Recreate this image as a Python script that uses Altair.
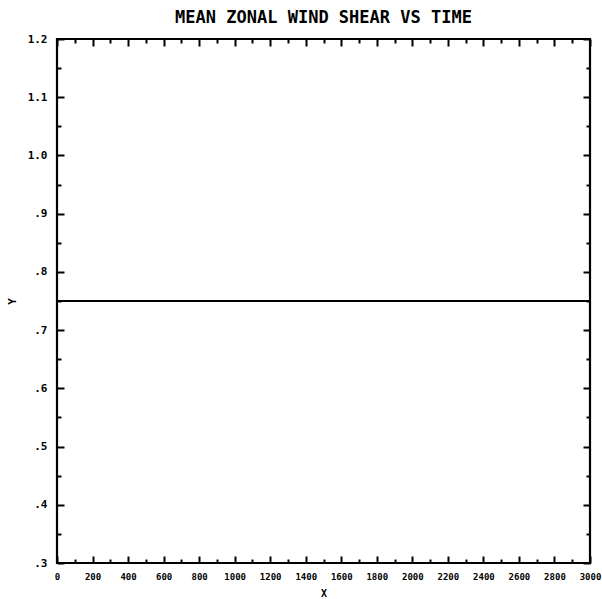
import altair as alt
import pandas as pd

# data
line_x = [0, 3000]
line_y = [0.75, 0.75]
x_major = list(range(0, 3001, 200))
x_minor = list(range(100, 3000, 200))
y_major = [0.3, 0.4, 0.5, 0.6, 0.7, 0.8, 0.9, 1.0, 1.1, 1.2]
y_minor = [0.35, 0.45, 0.55, 0.65, 0.75, 0.85, 0.95, 1.05, 1.15]
title_text = "MEAN ZONAL WIND SHEAR VS TIME"

W, H = 533, 524
df = pd.DataFrame({"x": line_x, "y": line_y})

xs = alt.Scale(domain=[0, 3000], nice=False, zero=False)
ys = alt.Scale(domain=[0.3, 1.2], nice=False, zero=False)

FONT = "DejaVu Sans Mono"

def tick_axis(orient, offset, values, size):
    return alt.Axis(orient=orient, offset=offset, values=values, tickSize=size,
                    tickWidth=2, tickColor="black", labels=False, domain=False,
                    grid=False, title="")

base = alt.Chart(df)

main = base.mark_line(color="black", strokeWidth=2.2).encode(
    x=alt.X("x:Q", scale=xs, axis=alt.Axis(
        orient="bottom", values=x_major, format="d", ticks=False, tickSize=0, domain=False, grid=False,
        labelPadding=9, labelFont=FONT, labelFontSize=9, labelFontWeight="bold",
        labelColor="black", labelFlush=False, labelOverlap=False,
        title="X", titleFont=FONT, titleFontSize=10, titleFontWeight="bold",
        titlePadding=7, titleColor="black")),
    y=alt.Y("y:Q", scale=ys, axis=alt.Axis(
        orient="left", values=y_major, ticks=False, tickSize=0, domain=False, grid=False,
        labelPadding=10, labelFont=FONT, labelFontSize=11, labelFontWeight="bold",
        labelColor="black", labelFlush=False, labelOverlap=False,
        labelExpr="datum.value < 0.99 ? '.' + round(datum.value*10) : format(datum.value, '.1f')",
        title="Y", titleFont=FONT, titleFontSize=11, titleFontWeight="bold",
        titlePadding=10, titleColor="black")),
)

def ghost(xaxis, yaxis):
    return base.mark_line(opacity=0).encode(
        x=alt.X("x:Q", scale=xs, axis=xaxis),
        y=alt.Y("y:Q", scale=ys, axis=yaxis),
    )

l2 = ghost(tick_axis("top", -H, x_major, 7), tick_axis("right", -W, y_major, 7))
l3 = ghost(tick_axis("top", -H, x_minor, 4), tick_axis("right", -W, y_minor, 4))
l4 = ghost(tick_axis("bottom", -H, x_major, 7), tick_axis("left", -W, y_major, 7))
l5 = ghost(tick_axis("bottom", -H, x_minor, 4), tick_axis("left", -W, y_minor, 4))

chart = alt.layer(main, l2, l3, l4, l5).resolve_axis(
    x="independent", y="independent"
).properties(
    width=W, height=H,
    background="white",
    title=alt.TitleParams(title_text, font="DejaVu Sans Mono", fontSize=17,
                          fontWeight="bold", color="black", offset=6, anchor="middle"),
    autosize=alt.AutoSizeParams(type="none"),
    padding={"left": 57, "top": 39, "right": 12, "bottom": 36},
).configure_view(stroke="black", strokeWidth=2.2)

chart.save("out.html", embed_options={"renderer": "svg", "actions": False})
